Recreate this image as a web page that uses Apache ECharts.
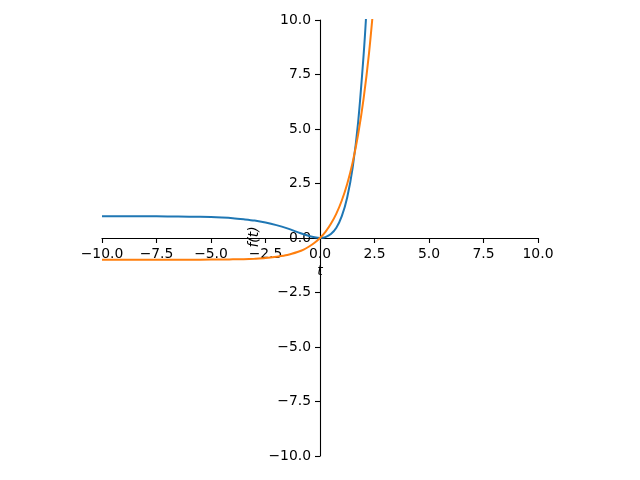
<!DOCTYPE html>
<html>
<head>
<meta charset="utf-8">
<script src="https://cdn.jsdelivr.net/npm/echarts@6/dist/echarts.min.js"></script>
<style>html,body{margin:0;padding:0;background:#fff}#c{width:640px;height:480px}</style>
</head>
<body>
<div id="c"></div>
<script>
// Values
const tBlue = [-10, -9, -8, -7, -6, -5, -4.5, -4, -3.5, -3, -2.5, -2, -1.5, -1, -0.75, -0.5, -0.25, 0, 0.25, 0.5, 0.75, 1, 1.25, 1.5, 1.75, 2, 2.125, 2.25];
const yBlue = [1.0, 1.0, 1.0, 0.99, 0.98, 0.96, 0.94, 0.91, 0.86, 0.80, 0.71, 0.59, 0.44, 0.26, 0.17, 0.09, 0.03, 0, 0.04, 0.18, 0.47, 1.0, 1.87, 3.24, 5.32, 8.39, 10.35, 12.86];
const tOrange = [-10, -9, -8, -7, -6, -5, -4.5, -4, -3.5, -3, -2.5, -2, -1.5, -1, -0.75, -0.5, -0.25, 0, 0.25, 0.5, 0.75, 1, 1.25, 1.5, 1.75, 2, 2.25, 2.5];
const yOrange = [-1.0, -1.0, -1.0, -1.0, -1.0, -0.99, -0.99, -0.98, -0.97, -0.95, -0.92, -0.86, -0.78, -0.63, -0.53, -0.39, -0.22, 0, 0.28, 0.65, 1.12, 1.72, 2.49, 3.48, 4.75, 6.39, 8.49, 11.18];
const xTicks = [-10, -7.5, -5, -2.5, 0, 2.5, 5, 7.5, 10];
const yTicks = [-10, -7.5, -5, -2.5, 0, 2.5, 5, 7.5, 10];
const xLabel = 't';
const yLabel = 'f(t)';

const fmt = v => (v < 0 ? '\u2212' : '') + Math.abs(v).toFixed(1);
const FONT = 'DejaVu Sans';
const chart = echarts.init(document.getElementById('c'), null, {renderer: 'canvas'});
const axisCommon = {
  type: 'value', min: -10, max: 10, interval: 2.5,
  splitLine: {show: false},
  axisLine: {show: true, onZero: true, lineStyle: {color: '#000', width: 1.1}},
  axisTick: {show: true, length: 5, inside: false, lineStyle: {color: '#000', width: 1.1}}
};
chart.setOption({
  animation: false,
  grid: {left: 102, right: 102, top: 20, bottom: 24, containLabel: false},
  xAxis: Object.assign({}, axisCommon, {
    axisLabel: {color: '#000', fontFamily: FONT, fontSize: 13.9, margin: -209, verticalAlign: 'top', formatter: fmt}
  }),
  yAxis: Object.assign({}, axisCommon, {
    axisLabel: {color: '#000', fontFamily: FONT, fontSize: 13.9, margin: -209, align: 'right', formatter: fmt}
  }),
  series: [
    {type: 'line', data: tBlue.map((t, i) => [t, yBlue[i]]), showSymbol: false, smooth: 0.3, clip: true,
     lineStyle: {color: '#1f77b4', width: 2}, itemStyle: {color: '#1f77b4'}, z: 3},
    {type: 'line', data: tOrange.map((t, i) => [t, yOrange[i]]), showSymbol: false, smooth: 0.3, clip: true,
     lineStyle: {color: '#ff7f0e', width: 2}, itemStyle: {color: '#ff7f0e'}, z: 3}
  ],
  graphic: [
    {type: 'text', x: 320, y: 271, style: {text: xLabel, font: 'italic 13.9px "DejaVu Sans"', fill: '#000', textAlign: 'center', textVerticalAlign: 'middle'}},
    {type: 'text', x: 254, y: 237, rotation: Math.PI / 2, style: {text: yLabel, font: 'italic 13.9px "DejaVu Sans"', fill: '#000', textAlign: 'center', textVerticalAlign: 'middle'}}
  ]
});
</script>
</body>
</html>
